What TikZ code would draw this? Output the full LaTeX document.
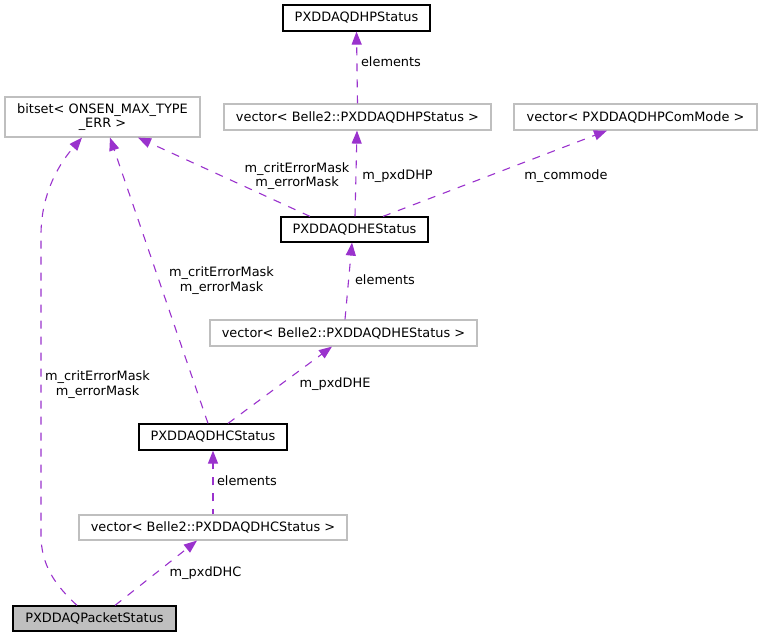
\documentclass[tikz,border=0pt]{standalone}
\usepackage{fontspec}
\setmainfont{DejaVu Sans}
\usetikzlibrary{arrows.meta}
\definecolor{edgecol}{HTML}{9A32CD}
\definecolor{graybd}{HTML}{BFBFBF}
\begin{document}
\begin{tikzpicture}[x=1pt,y=-1pt,
  font=\fontsize{12.9}{14.5}\selectfont,
  box/.style={draw=black,line width=1.2pt,inner sep=0pt,minimum height=#1,anchor=center},
  gbox/.style={draw=graybd,line width=1.2pt,inner sep=0pt,minimum height=#1,anchor=center},
  lbl/.style={inner sep=0pt,align=center},
  rel/.style={draw=edgecol,line width=1.1pt,dash pattern=on 8pt off 8pt,-{Triangle[length=13pt,width=10pt]},fill=none},
]
\useasboundingbox (0,0) rectangle (763,637);
% nodes
\node[box=26pt,minimum width=147pt] (dhp) at (356.5,18) {PXDDAQDHPStatus};
\node[gbox=40pt,minimum width=195pt,align=center] (bitset) at (102.5,117) {bitset< ONSEN\_MAX\_TYPE\\\_ERR >};
\node[gbox=26pt,minimum width=267pt] (vdhp) at (357.5,117) {vector< Belle2::PXDDAQDHPStatus >};
\node[gbox=26pt,minimum width=243pt] (vcom) at (635.5,117) {vector< PXDDAQDHPComMode >};
\node[box=25pt,minimum width=147pt] (dhe) at (354.5,229.5) {PXDDAQDHEStatus};
\node[gbox=26pt,minimum width=267pt] (vdhe) at (343.5,333) {vector< Belle2::PXDDAQDHEStatus >};
\node[box=26pt,minimum width=148pt] (dhc) at (213,437) {PXDDAQDHCStatus};
\node[gbox=25pt,minimum width=268pt] (vdhc) at (213,527.5) {vector< Belle2::PXDDAQDHCStatus >};
\node[box=25pt,minimum width=163pt,fill=graybd] (pkt) at (94.5,618.5) {PXDDAQPacketStatus};
% edges
\draw[rel] (vdhp.north) -- (dhp.south);
\draw[rel] ([xshift=0.5pt]dhe.north) -- ([xshift=-0.5pt]vdhp.south);
\draw[rel] ([xshift=-44.5pt]dhe.north) -- ([xshift=35.5pt]bitset.south);
\draw[rel] ([xshift=28.5pt]dhe.north) -- ([xshift=-28.5pt]vcom.south);
\draw[rel] ([xshift=1.5pt]vdhe.north) -- ([xshift=-2.5pt]dhe.south);
\draw[rel] ([xshift=15pt]dhc.north) -- ([xshift=-11.5pt]vdhe.south);
\draw[rel] ([xshift=-5pt]dhc.north) -- ([xshift=7.5pt]bitset.south);
\draw[rel,dash phase=3pt] (vdhc.north) -- (dhc.south);
\draw[rel] ([xshift=20.5pt]pkt.north) -- ([xshift=-16pt]vdhc.south);
\coordinate (c1) at (41,535);
\coordinate (c2) at (41,235);
\draw[rel] ([xshift=-17.5pt]pkt.north) .. controls (55,585) and (41,565) .. (c1) -- (c2) .. controls (41,195) and (58,165) .. ([xshift=-20.5pt]bitset.south);
% labels
\node[lbl] (l1) at (391,62) {elements};
\node[lbl] (l2) at (397.5,176) {m\_pxdDHP};
\node[lbl] (l3) at (297,176) {m\_critErrorMask\\m\_errorMask};
\node[lbl] (l4) at (566,176.5) {m\_commode};
\node[lbl] (l5) at (385,280) {elements};
\node[lbl] (l6) at (221.5,280.5) {m\_critErrorMask\\m\_errorMask};
\node[lbl] (l7) at (335,384.5) {m\_pxdDHE};
\node[lbl] (l8) at (97.5,384.5) {m\_critErrorMask\\m\_errorMask};
\node[lbl] (l9) at (247,481) {elements};
\node[lbl] (l10) at (205.5,573) {m\_pxdDHC};
\end{tikzpicture}
\end{document}
